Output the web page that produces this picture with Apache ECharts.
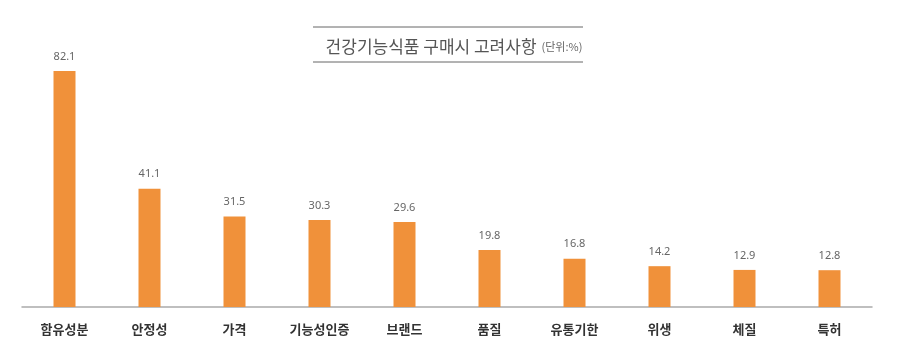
<!DOCTYPE html>
<html><head><meta charset="utf-8">
<script src="https://cdn.jsdelivr.net/npm/echarts@6/dist/echarts.min.js"></script>
<style>html,body{margin:0;padding:0;background:#fff}#c{width:904px;height:360px}</style>
</head><body><div id="c"></div>
<script>
const categories = ['함유성분','안정성','가격','기능성인증','브랜드','품질','유통기한','위생','체질','특허'];
const values = [82.1, 41.1, 31.5, 30.3, 29.6, 19.8, 16.8, 14.2, 12.9, 12.8];
const titleMain = '건강기능식품 구매시 고려사항';
const titleUnit = '(단위:%)';

const chart = echarts.init(document.getElementById('c'));
chart.setOption({
  backgroundColor: '#fff',
  animation: false,
  title: {
    text: '{m|' + titleMain + '} {u|' + titleUnit + '}',
    left: 449, top: 33, textAlign: 'center',
    textStyle: {
      fontWeight: 'normal',
      rich: {
        m: { fontSize: 17, color: '#555', fontWeight: 'normal', fontFamily: 'Noto Sans CJK KR' },
        u: { fontSize: 11, color: '#666', fontWeight: 'normal', fontFamily: 'Noto Sans CJK KR' }
      }
    }
  },
  graphic: [
    { type: 'line', shape: { x1: 313, y1: 27, x2: 583, y2: 27 }, style: { stroke: '#666', lineWidth: 1 } },
    { type: 'line', shape: { x1: 313, y1: 62, x2: 583, y2: 62 }, style: { stroke: '#666', lineWidth: 1 } }
  ],
  grid: { left: 22, right: 32, top: 71, bottom: 53 },
  xAxis: {
    type: 'category', data: categories,
    axisLine: { lineStyle: { color: '#aaa', width: 1.5 } },
    axisTick: { show: false },
    axisLabel: { color: '#333', fontSize: 13, fontWeight: 'bold', margin: 16, fontFamily: 'Noto Sans CJK KR' }
  },
  yAxis: {
    type: 'value', min: 0, max: 82.1,
    show: false, splitLine: { show: false }
  },
  series: [{
    type: 'bar', data: values, barWidth: 22,
    itemStyle: { color: '#F0913A' },
    label: { show: true, position: 'top', distance: 9, color: '#666', fontSize: 11, fontFamily: 'Noto Sans', formatter: p => p.value.toFixed(1) }
  }]
});
</script></body></html>
